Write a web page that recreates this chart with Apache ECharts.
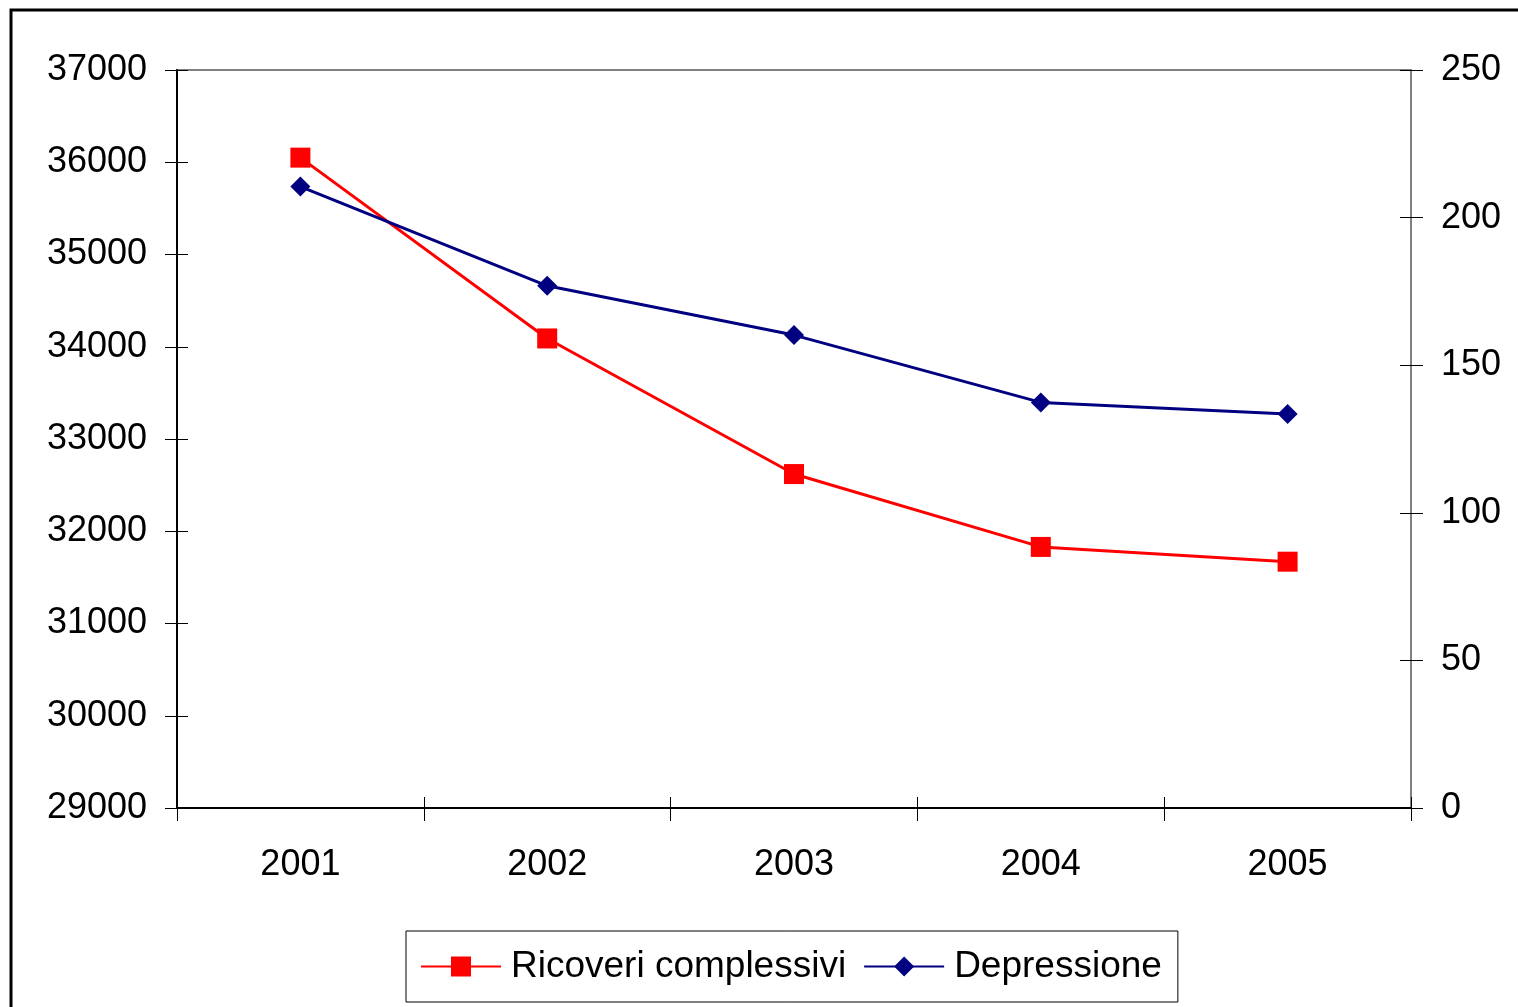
<!DOCTYPE html>
<html>
<head>
<meta charset="utf-8">
<script src="https://cdn.jsdelivr.net/npm/echarts@6/dist/echarts.min.js"></script>
<style>
html,body{margin:0;padding:0;background:#fff;}
#chart{width:1518px;height:1007px;}
</style>
</head>
<body>
<div id="chart"></div>
<script>
const categories = ['2001', '2002', '2003', '2004', '2005'];
const ricoveri = [36050, 34090, 32620, 31830, 31670];
const depressione = [210.5, 176.9, 160.2, 137.4, 133.5];
const leftAxis = { min: 29000, max: 37000, interval: 1000 };
const rightAxis = { min: 0, max: 250, interval: 50 };

const FONT = "'Liberation Sans', Arial, sans-serif";
const chart = echarts.init(document.getElementById('chart'), null, { renderer: 'canvas' });

const labelStyle = { color: '#000', fontSize: 36, fontFamily: FONT, formatter: function (v) { return String(v); } };

const option = {
  backgroundColor: '#fff',
  animation: false,
  graphic: [{
    type: 'rect',
    shape: { x: 11, y: 10, width: 1700, height: 1200 },
    style: { fill: 'none', stroke: '#000', lineWidth: 3 },
    z: 100
  }],
  grid: {
    left: 177, right: 107, top: 70, bottom: 199,
    show: true, borderColor: '#808080', borderWidth: 2, backgroundColor: '#fff'
  },
  legend: {
    left: 406, top: 931,
    orient: 'horizontal',
    itemWidth: 80, itemHeight: 25, itemGap: 17,
    padding: [17, 16, 17, 14],
    borderColor: '#000', borderWidth: 1,
    textStyle: { color: '#000', fontSize: 37, fontFamily: FONT, padding: [0, 0, 0, 5] },
    data: ['Ricoveri complessivi', 'Depressione']
  },
  xAxis: [{
    type: 'category', data: categories, boundaryGap: true, position: 'bottom',
    axisLine: { show: true, lineStyle: { color: '#000', width: 2 } },
    axisTick: { show: true, inside: false, length: 13, alignWithLabel: false, lineStyle: { color: '#000', width: 1 } },
    axisLabel: Object.assign({}, labelStyle, { margin: 39 }),
    splitLine: { show: false }
  }, {
    type: 'category', data: categories, boundaryGap: true, position: 'bottom',
    axisLine: { show: false },
    axisTick: { show: true, inside: true, length: 11, lineStyle: { color: '#000', width: 1 } },
    axisLabel: { show: false },
    splitLine: { show: false }
  }],
  yAxis: [{
    type: 'value', position: 'left', min: leftAxis.min, max: leftAxis.max, interval: leftAxis.interval,
    axisLine: { show: true, lineStyle: { color: '#000', width: 2 } },
    axisTick: { show: true, inside: false, length: 12, lineStyle: { color: '#000', width: 1 } },
    axisLabel: Object.assign({}, labelStyle, { margin: 30 }),
    splitLine: { show: false }
  }, {
    type: 'value', position: 'right', min: rightAxis.min, max: rightAxis.max, interval: rightAxis.interval,
    axisLine: { show: true, lineStyle: { color: '#808080', width: 2 } },
    axisTick: { show: true, inside: false, length: 12, lineStyle: { color: '#000', width: 1 } },
    axisLabel: Object.assign({}, labelStyle, { margin: 30 }),
    splitLine: { show: false }
  }, {
    type: 'value', position: 'left', min: leftAxis.min, max: leftAxis.max, interval: leftAxis.interval,
    axisLine: { show: false },
    axisTick: { show: true, inside: true, length: 11, lineStyle: { color: '#000', width: 1 } },
    axisLabel: { show: false },
    splitLine: { show: false }
  }, {
    type: 'value', position: 'right', min: rightAxis.min, max: rightAxis.max, interval: rightAxis.interval,
    axisLine: { show: false },
    axisTick: { show: true, inside: true, length: 11, lineStyle: { color: '#000', width: 1 } },
    axisLabel: { show: false },
    splitLine: { show: false }
  }],
  series: [{
    name: 'Ricoveri complessivi', type: 'line', xAxisIndex: 0, yAxisIndex: 0,
    data: ricoveri,
    symbol: 'rect', symbolSize: 20,
    lineStyle: { color: '#FF0000', width: 3 },
    itemStyle: { color: '#FF0000' },
    z: 3
  }, {
    name: 'Depressione', type: 'line', xAxisIndex: 0, yAxisIndex: 1,
    data: depressione,
    symbol: 'diamond', symbolSize: 20,
    lineStyle: { color: '#000080', width: 3 },
    itemStyle: { color: '#000080' },
    z: 4
  }]
};
chart.setOption(option);
</script>
</body>
</html>
